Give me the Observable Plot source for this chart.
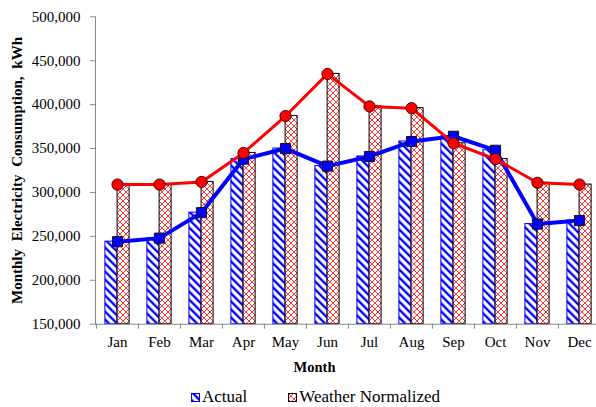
<!DOCTYPE html>
<html>
<head>
<meta charset="utf-8">
<script src="https://cdn.jsdelivr.net/npm/d3@7"></script>
<script src="https://cdn.jsdelivr.net/npm/@observablehq/plot@0.6"></script>
<style>
  html, body { margin: 0; padding: 0; background: #fff; }
  #chart svg { display: block; overflow: visible; }
  #chart svg text { fill: #000; }
  #legend {
    display: flex; align-items: center; height: 18px; line-height: 18px;
    padding-left: 191px; padding-top: 3px;
    font-family: "Liberation Serif", "Times New Roman", serif; font-size: 17px; color: #000;
  }
  #legend svg { display: block; margin-right: 2px; }
  #legend .gap { width: 41px; }
</style>
</head>
<body>
<!-- shared fill patterns for the bars and legend swatches -->
<svg width="0" height="0" style="position:absolute">
  <defs>
    <pattern id="hatchActual" patternUnits="userSpaceOnUse" width="5.66" height="10" patternTransform="rotate(-45)">
      <rect x="0" y="0" width="5.66" height="10" fill="#fff"></rect>
      <rect x="0" y="0" width="2.3" height="10" fill="#0000ff"></rect>
    </pattern>
    <pattern id="crossNormalized" patternUnits="userSpaceOnUse" width="6" height="6">
      <rect x="0" y="0" width="6" height="6" fill="#fff"></rect>
      <path d="M0,0L6,6M6,0L0,6" stroke="#ff2020" stroke-width="0.9"></path>
    </pattern>
  </defs>
</svg>
<div id="chart"></div>
<div id="legend">
  <svg width="9" height="9"><rect x="0.5" y="0.5" width="8" height="8" fill="url(#hatchActual)" stroke="#0000ff"></rect></svg>
  <span>Actual</span>
  <span class="gap"></span>
  <svg width="9" height="9"><rect x="0.5" y="0.5" width="8" height="8" fill="url(#crossNormalized)" stroke="#000"></rect></svg>
  <span>Weather Normalized</span>
</div>
<script>
// Monthly electricity consumption (kWh)
const months = ["Jan", "Feb", "Mar", "Apr", "May", "Jun", "Jul", "Aug", "Sep", "Oct", "Nov", "Dec"];
const actual = [244000, 248000, 277000, 338000, 350000, 330000, 341000, 358000, 364000, 348000, 264000, 268000];
const weatherNormalized = [309000, 309000, 312000, 345000, 387000, 435000, 398000, 396000, 356000, 338000, 311000, 309000];
const yTicks = [150000, 200000, 250000, 300000, 350000, 400000, 450000, 500000];
const yTitle = "Monthly Electricity Consumption, kWh";
const xTitle = "Month";

const rows = months.map((month, i) => ({month, actual: actual[i], normalized: weatherNormalized[i]}));

const width = 596, height = 385;
const marginLeft = 95, marginTop = 16.3, marginBottom = 61.3;
const xEnd = 601;                       // last month band runs slightly past the page edge
const step = (xEnd - marginLeft) / months.length;
const barW = 12.2;                      // width of each bar in a month pair
const side = (step - 2 * barW) / 2;     // space between a pair and its band edges
const axisGray = "#868686";

const chart = Plot.plot({
  width, height, marginLeft, marginRight: 0, marginTop, marginBottom,
  style: {fontFamily: "Liberation Serif, Times New Roman, serif", fontSize: "15px", color: axisGray, background: "#fff"},
  x: {domain: months, range: [marginLeft, xEnd], padding: 0, tickSize: 0, tickPadding: 12, label: null},
  y: {domain: [yTicks[0], yTicks[yTicks.length - 1]], ticks: yTicks, tickFormat: d3.format(","), tickSize: 5, tickPadding: 10, label: null, line: true},
  marks: [
    Plot.barY(rows, {x: "month", y1: yTicks[0], y2: "actual", insetLeft: side, insetRight: side + barW,
      fill: "url(#hatchActual)", stroke: "#0000ff", strokeWidth: 1}),
    Plot.barY(rows, {x: "month", y1: yTicks[0], y2: "normalized", insetLeft: side + barW, insetRight: side,
      fill: "url(#crossNormalized)", stroke: "#000", strokeWidth: 1}),
    Plot.ruleY([yTicks[0]], {stroke: axisGray}),
    Plot.ruleX(months, {x: d => d, dx: -step / 2, y1: yTicks[0], y2: yTicks[0], insetBottom: -5, stroke: axisGray}),
    Plot.line(rows, {x: "month", y: "actual", stroke: "#0000ff", strokeWidth: 4}),
    Plot.dot(rows, {x: "month", y: "actual", symbol: "square", r: 5.7, fill: "#0000ff", stroke: "#111", strokeWidth: 1}),
    Plot.line(rows, {x: "month", y: "normalized", stroke: "#ff0000", strokeWidth: 3}),
    Plot.dot(rows, {x: "month", y: "normalized", r: 5.6, fill: "#ff0000", stroke: "#400", strokeWidth: 1}),
    Plot.text([yTitle], {frameAnchor: "left", textAnchor: "middle", rotate: -90, dx: -78, fontWeight: "bold", fontSize: 15}),
    Plot.text([xTitle], {frameAnchor: "bottom", textAnchor: "middle", dx: -31.5, dy: 48, fontWeight: "bold", fontSize: 14.5})
  ]
});

// wider word gaps in the vertical title
d3.select(chart).selectAll("text").filter(function () { return this.textContent === yTitle; })
  .style("word-spacing", "4px");

document.getElementById("chart").appendChild(chart);
</script>
</body>
</html>
